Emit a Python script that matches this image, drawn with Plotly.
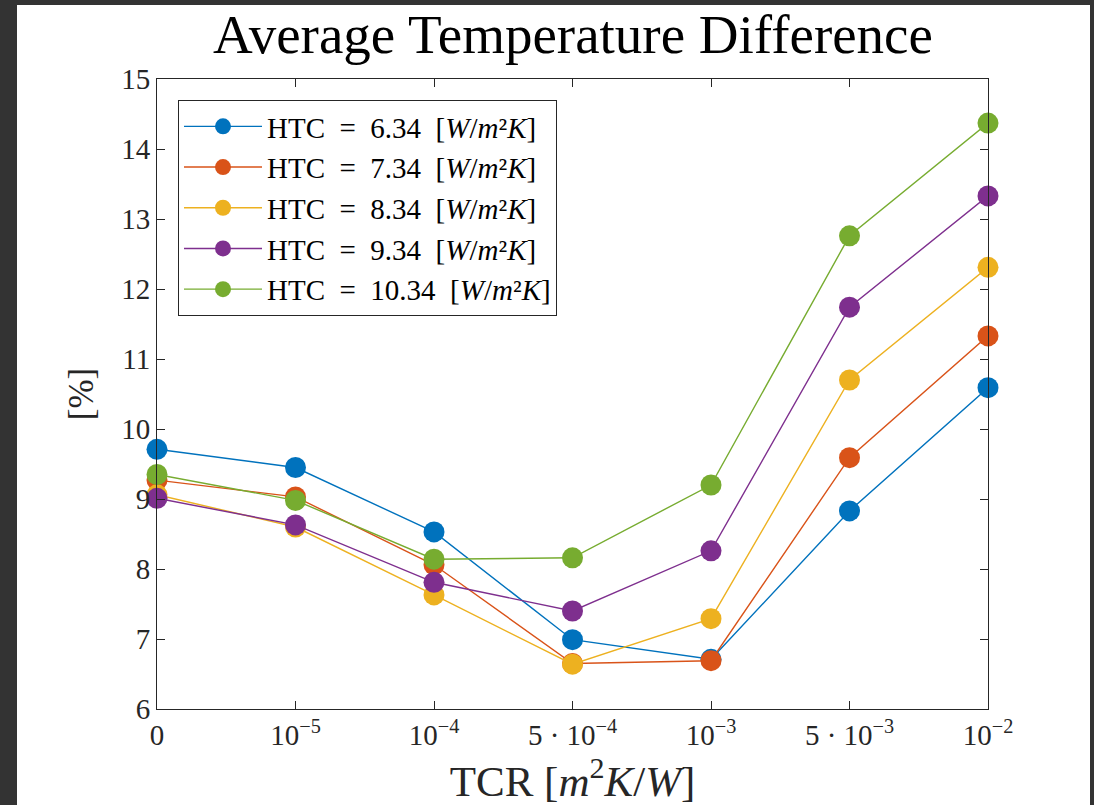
import plotly.graph_objects as go

categories = ["0", "1e-5", "1e-4", "5e-4", "1e-3", "5e-3", "1e-2"]
tick_labels = ["0", "10<sup>−5</sup>", "10<sup>−4</sup>", "5 · 10<sup>−4</sup>",
               "10<sup>−3</sup>", "5 · 10<sup>−3</sup>", "10<sup>−2</sup>"]
htc_values = ["6.34", "7.34", "8.34", "9.34", "10.34"]

htc_634 = [9.71, 9.45, 8.53, 6.99, 6.71, 8.83, 10.59]
htc_734 = [9.27, 9.03, 8.06, 6.65, 6.69, 9.59, 11.33]
htc_834 = [9.06, 8.60, 7.63, 6.64, 7.29, 10.70, 12.31]
htc_934 = [9.01, 8.63, 7.81, 7.40, 8.26, 11.74, 13.33]
htc_1034 = [9.35, 8.98, 8.14, 8.16, 9.20, 12.76, 14.37]

series = [htc_634, htc_734, htc_834, htc_934, htc_1034]
colors = ["#0072BD", "#D95319", "#EDB120", "#7E2F8E", "#77AC30"]

FONT = "Liberation Serif"
x_idx = list(range(len(categories)))

fig = go.Figure()
for vals, htc, col in zip(series, htc_values, colors):
    fig.add_trace(go.Scatter(
        x=x_idx, y=vals, mode="lines+markers",
        name=f"HTC\u2002=\u2002{htc}\u2002[<i>W</i>/<i>m</i>²<i>K</i>]",
        line=dict(color=col, width=1.4),
        marker=dict(color=col, size=21),
        cliponaxis=False,
    ))

W, H = 1094, 805
L, R, T, B = 157, 106, 79, 96
pw, ph = W - L - R, H - T - B

def px_to_paper_x(px):
    return (px - L) / pw

def px_to_paper_y(py):
    return (H - B - py) / ph

fig.add_shape(type="rect", xref="paper", yref="paper",
              x0=px_to_paper_x(17), x1=px_to_paper_x(1090),
              y0=px_to_paper_y(806), y1=px_to_paper_y(5),
              fillcolor="white", line=dict(width=0), layer="below")

axis_common = dict(showline=True, linecolor="#262626", linewidth=1,
                   mirror="ticks", ticks="inside", ticklen=8, tickcolor="#262626",
                   showgrid=False, zeroline=False,
                   tickfont=dict(family=FONT, size=29, color="#262626"))

fig.update_xaxes(range=[0, 6], tickvals=x_idx, ticktext=tick_labels,
                 title=dict(text="TCR [<i>m</i><sup>2</sup><i>K</i>/<i>W</i>]",
                            font=dict(family=FONT, size=43, color="#262626"), standoff=4),
                 **axis_common)
fig.update_yaxes(range=[6, 15], tickvals=list(range(6, 16)),
                 title=dict(text="[%]", font=dict(family=FONT, size=35, color="#262626"), standoff=16),
                 **axis_common)

fig.update_layout(
    width=W, height=H,
    margin=dict(l=L, r=R, t=T, b=B),
    paper_bgcolor="#333333", plot_bgcolor="white",
    title=dict(text="Average Temperature Difference", x=px_to_paper_x(573), xref="paper",
               xanchor="center", y=1 - 34 / H, yanchor="middle",
               font=dict(family=FONT, size=55, color="black")),
    legend=dict(x=px_to_paper_x(178), y=px_to_paper_y(100), xanchor="left", yanchor="top",
                bgcolor="white", bordercolor="#262626", borderwidth=1,
                font=dict(family=FONT, size=29, color="black"),
                itemwidth=78, tracegroupgap=0),
    showlegend=True,
)

fig.write_html("out.html", config={"displayModeBar": False},
               post_script="document.body.style.margin='0';document.body.style.background='#333333';")
